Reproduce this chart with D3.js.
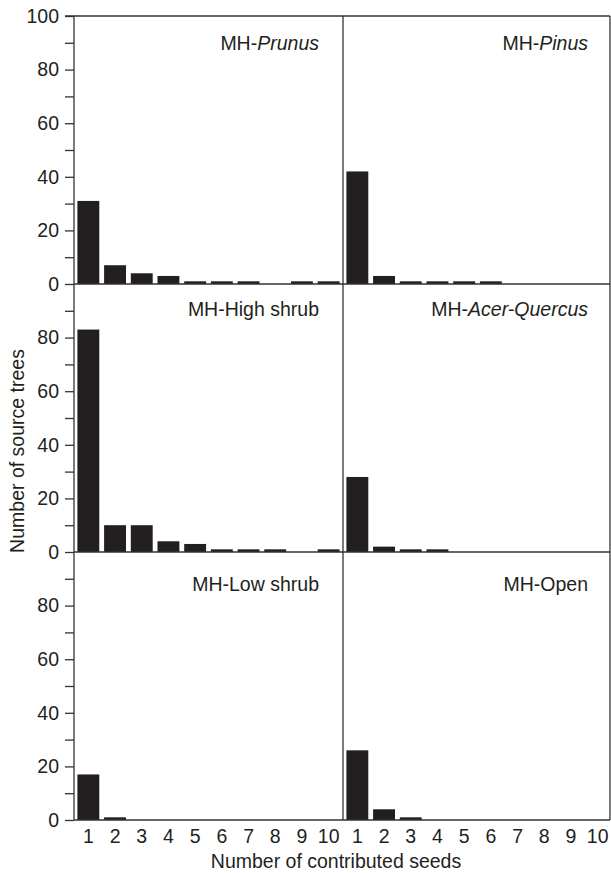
<!DOCTYPE html>
<html>
<head>
<meta charset="utf-8">
<script src="https://cdn.jsdelivr.net/npm/d3@7"></script>
<style>
  body { margin: 0; background: #fff; }
  text { font-family: "Liberation Sans", Arial, sans-serif; fill: #231f20; }
</style>
</head>
<body>
<svg id="main-svg"></svg>
<script>
// data
const seeds = ["1", "2", "3", "4", "5", "6", "7", "8", "9", "10"];
const prunus = [31, 7, 4, 3, 1, 1, 1, 0, 1, 1];
const pinus = [42, 3, 1, 1, 1, 1, 0, 0, 0, 0];
const highShrub = [83, 10, 10, 4, 3, 1, 1, 1, 0, 1];
const acerQuercus = [28, 2, 1, 1, 0, 0, 0, 0, 0, 0];
const lowShrub = [17, 1, 0, 0, 0, 0, 0, 0, 0, 0];
const open = [26, 4, 1, 0, 0, 0, 0, 0, 0, 0];

// label pieces: [text, italic]
const labelPrunus = [["MH-", false], ["Prunus", true]];
const labelPinus = [["MH-", false], ["Pinus", true]];
const labelHigh = [["MH-High shrub", false]];
const labelAcer = [["MH-", false], ["Acer-Quercus", true]];
const labelLow = [["MH-Low shrub", false]];
const labelOpen = [["MH-Open", false]];

const yTicks = [0, 10, 20, 30, 40, 50, 60, 70, 80, 90];
const yTicksTop = [0, 10, 20, 30, 40, 50, 60, 70, 80, 90, 100];

const panels = [
  { row: 0, col: 0, values: prunus, label: labelPrunus, labelY: 34 },
  { row: 0, col: 1, values: pinus, label: labelPinus, labelY: 34 },
  { row: 1, col: 0, values: highShrub, label: labelHigh, labelY: 32 },
  { row: 1, col: 1, values: acerQuercus, label: labelAcer, labelY: 32 },
  { row: 2, col: 0, values: lowShrub, label: labelLow, labelY: 39 },
  { row: 2, col: 1, values: open, label: labelOpen, labelY: 39 },
];

// layout
const WIDTH = 611
const HEIGHT = 873
const AXIS_X = 74
const MID_X = 343
const RIGHT_X = 610
const TOP_Y = 16
const PANEL_H = 268
const PANEL_W = 268
const INK = "#231f20"
const LINE = "#333"
const FONT = 19.5

const svg = d3.select("#main-svg")
  .attr("width", WIDTH)
  .attr("height", HEIGHT);

const colX = [AXIS_X, MID_X];
const BOTTOM_Y = TOP_Y + 3 * PANEL_H;

const xScales = colX.map(x0 =>
  d3.scaleBand().domain(seeds).range([x0 + 1, x0 + PANEL_W]).paddingInner(0.18).paddingOuter(0.09)
);
const yScales = [0, 1, 2].map(r =>
  d3.scaleLinear().domain([0, 100]).range([TOP_Y + (r + 1) * PANEL_H, TOP_Y + r * PANEL_H])
);

// bars
panels.forEach(p => {
  const x = xScales[p.col];
  const y = yScales[p.row];
  svg.append("g")
    .selectAll("rect")
    .data(p.values.map((v, i) => ({ seed: seeds[i], v: v })))
    .join("rect")
    .attr("x", d => x(d.seed))
    .attr("width", x.bandwidth())
    .attr("y", d => y(d.v))
    .attr("height", d => y(0) - y(d.v))
    .attr("fill", INK);

  // panel label
  const t = svg.append("text")
    .attr("x", colX[p.col] + PANEL_W - 23)
    .attr("y", y(100) + p.labelY)
    .attr("text-anchor", "end")
    .style("font-size", FONT + "px");
  p.label.forEach(part => {
    t.append("tspan").text(part[0]).style("font-style", part[1] ? "italic" : "normal");
  });
});

// y axes
yScales.forEach((y, r) => {
  const g = svg.append("g")
    .attr("transform", `translate(${AXIS_X},0)`)
    .call(d3.axisLeft(y)
      .tickValues(r === 0 ? yTicksTop : yTicks)
      .tickSize(9)
      .tickPadding(6)
      .tickFormat(d => d % 20 === 0 ? d : ""));
  g.select(".domain").remove();
  g.selectAll(".tick line").attr("stroke", LINE).attr("stroke-width", 1.3);
  g.selectAll(".tick text")
    .style("font-size", FONT + "px")
    .style("font-family", "'Liberation Sans', Arial, sans-serif")
    .attr("fill", INK);
});

// x axes (labels only on bottom row)
xScales.forEach(x => {
  const g = svg.append("g")
    .attr("transform", `translate(0,${BOTTOM_Y})`)
    .call(d3.axisBottom(x).tickSize(0).tickPadding(9));
  g.select(".domain").remove();
  g.selectAll(".tick text")
    .style("font-size", FONT + "px")
    .style("font-family", "'Liberation Sans', Arial, sans-serif")
    .attr("fill", INK);
});

// frame lines
const lines = svg.append("g").attr("stroke", LINE).attr("stroke-width", 1.3);
lines.append("line").attr("x1", AXIS_X - 9).attr("x2", RIGHT_X).attr("y1", TOP_Y).attr("y2", TOP_Y);
yScales.forEach(y => {
  lines.append("line").attr("x1", AXIS_X).attr("x2", RIGHT_X).attr("y1", y(0)).attr("y2", y(0));
});
[AXIS_X, MID_X, RIGHT_X].forEach(xv => {
  lines.append("line").attr("x1", xv).attr("x2", xv).attr("y1", TOP_Y).attr("y2", BOTTOM_Y);
});

// axis titles
svg.append("text")
  .attr("x", 336)
  .attr("y", 868)
  .attr("text-anchor", "middle")
  .style("font-size", FONT + "px")
  .text("Number of contributed seeds");

svg.append("text")
  .attr("transform", "translate(24,451) rotate(-90)")
  .attr("text-anchor", "middle")
  .style("font-size", FONT + "px")
  .text("Number of source trees");
</script>
</body>
</html>
